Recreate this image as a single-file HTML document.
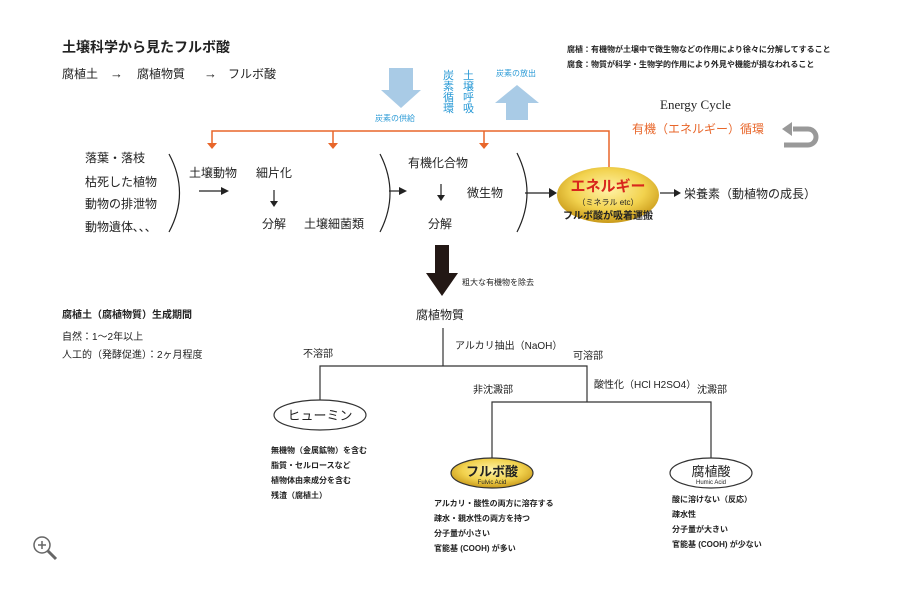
<!DOCTYPE html>
<html><head><meta charset="utf-8"><style>
html,body{margin:0;padding:0;background:#fff}
svg{display:block}
text{font-family:"Liberation Sans","Noto Sans CJK JP",sans-serif;fill:#222}
.b{font-weight:bold}
</style></head><body>
<svg width="900" height="600" viewBox="0 0 900 600" xmlns="http://www.w3.org/2000/svg">
<defs>
<radialGradient id="gold" cx="50%" cy="40%" r="60%">
<stop offset="0" stop-color="#fff3a8"/><stop offset="0.6" stop-color="#f2d24e"/><stop offset="1" stop-color="#c99a1a"/>
</radialGradient>
</defs>
<text x="62" y="52" font-size="14" class="b">土壌科学から見たフルボ酸</text>
<text x="62" y="78" font-size="12">腐植土</text>
<text x="110" y="78" font-size="13">→</text>
<text x="137" y="78" font-size="12">腐植物質</text>
<text x="204" y="78" font-size="13">→</text>
<text x="228" y="78" font-size="12">フルボ酸</text>
<text x="567" y="52" font-size="8" class="b">腐植：有機物が土壌中で微生物などの作用により徐々に分解してすること</text>
<text x="567" y="67" font-size="8" class="b">腐食：物質が科学・生物学的作用により外見や機能が損なわれること</text>
<!-- blue arrows -->
<polygon points="389,68 413,68 413,90 421,90 401,108 381,90 389,90" fill="#a9cbe6"/>
<text x="375" y="121" font-size="8" style="fill:#2a9ad6">炭素の供給</text>
<g font-size="11">
<text x="443" y="79" style="fill:#2a9ad6">炭</text><text x="443" y="90" style="fill:#2a9ad6">素</text><text x="443" y="101" style="fill:#2a9ad6">循</text><text x="443" y="112" style="fill:#2a9ad6">環</text>
<text x="463" y="79" style="fill:#2a9ad6">土</text><text x="463" y="90" style="fill:#2a9ad6">壌</text><text x="463" y="101" style="fill:#2a9ad6">呼</text><text x="463" y="112" style="fill:#2a9ad6">吸</text>
</g>
<text x="496" y="76" font-size="8" style="fill:#2a9ad6">炭素の放出</text>
<polygon points="517,85 539,103 528,103 528,120 506,120 506,103 495,103" fill="#a9cbe6"/>
<!-- orange -->
<g stroke="#e8662a" stroke-width="1.5" fill="none">
<polyline points="212,145 212,131 609,131 609,170"/>
<line x1="333" y1="131" x2="333" y2="144"/>
<line x1="484" y1="131" x2="484" y2="144"/>
</g>
<g fill="#e8662a">
<polygon points="207,143 217,143 212,149"/><polygon points="328,143 338,143 333,149"/><polygon points="479,143 489,143 484,149"/>
</g>
<text x="660" y="109" font-size="13" style="font-family:'Liberation Serif',serif">Energy Cycle</text>
<text x="632" y="133" font-size="12" style="fill:#e8662a">有機（エネルギー）循環</text>
<path d="M793,129 H808 A8,8 0 0 1 808,145 H784" stroke="#999" stroke-width="5" fill="none"/>
<polygon points="782,129 792,122 792,136" fill="#999"/>
<!-- left list -->
<g font-size="12">
<text x="85" y="162">落葉・落枝</text><text x="85" y="186">枯死した植物</text><text x="85" y="208">動物の排泄物</text><text x="85" y="231">動物遺体､､､</text>
<text x="189" y="177">土壌動物</text><text x="256" y="177">細片化</text>
<text x="262" y="228">分解</text><text x="304" y="228">土壌細菌類</text>
<text x="408" y="167">有機化合物</text><text x="428" y="228">分解</text><text x="467" y="197">微生物</text>
<text x="684" y="198">栄養素（動植物の成長）</text>
</g>
<g stroke="#222" stroke-width="1.2" fill="none">
<path d="M169,154 Q190,193 169,232"/>
<path d="M380,154 Q400,193 380,232"/>
<path d="M517,153 Q537,193 517,232"/>
<line x1="199" y1="191" x2="222" y2="191"/>
<line x1="274" y1="190" x2="274" y2="202"/>
<line x1="389" y1="191" x2="400" y2="191"/>
<line x1="441" y1="184" x2="441" y2="196"/>
<line x1="525" y1="193" x2="550" y2="193"/>
<line x1="660" y1="193" x2="675" y2="193"/>
</g>
<g fill="#222">
<polygon points="221,187 229,191 221,195"/>
<polygon points="270,201 278,201 274,207"/>
<polygon points="399,187 407,191 399,195"/>
<polygon points="437,195 445,195 441,201"/>
<polygon points="549,188 557,193 549,198"/>
<polygon points="674,189 681,193 674,197"/>
</g>
<ellipse cx="608" cy="195" rx="51" ry="28" fill="url(#gold)"/>
<text x="608" y="191" font-size="15" text-anchor="middle" class="b" style="fill:#d8261c">エネルギー</text>
<text x="608" y="205" font-size="8" text-anchor="middle">（ミネラル etc）</text>
<text x="608" y="219" font-size="10" text-anchor="middle" class="b">フルボ酸が吸着運搬</text>
<!-- big arrow -->
<polygon points="435,245 449,245 449,273 458,273 442,296 426,273 435,273" fill="#231815"/>
<text x="462" y="285" font-size="8">粗大な有機物を除去</text>
<text x="62" y="318" font-size="10" class="b">腐植土（腐植物質）生成期間</text>
<text x="62" y="340" font-size="10">自然：1〜2年以上</text>
<text x="62" y="358" font-size="10">人工的（発酵促進）：2ヶ月程度</text>
<text x="416" y="319" font-size="12">腐植物質</text>
<g stroke="#333" stroke-width="1.2" fill="none">
<polyline points="443,328 443,366"/>
<polyline points="320,400 320,366 587,366 587,402"/>
<polyline points="492,458 492,402 711,402 711,458"/>
</g>
<g font-size="10">
<text x="303" y="357">不溶部</text><text x="455" y="349">アルカリ抽出（NaOH）</text><text x="573" y="359">可溶部</text>
<text x="594" y="388">酸性化（HCl H2SO4）</text><text x="473" y="393">非沈澱部</text><text x="697" y="393">沈澱部</text>
</g>
<ellipse cx="320" cy="415" rx="46" ry="15" fill="#fff" stroke="#333" stroke-width="1.2"/>
<text x="320" y="420" font-size="13" text-anchor="middle">ヒューミン</text>
<ellipse cx="492" cy="473" rx="41" ry="15" fill="url(#gold)" stroke="#333" stroke-width="1.2"/>
<text x="492" y="476" font-size="13" text-anchor="middle" class="b">フルボ酸</text>
<text x="492" y="484" font-size="6" text-anchor="middle">Fulvic Acid</text>
<ellipse cx="711" cy="473" rx="41" ry="15" fill="#fff" stroke="#333" stroke-width="1.2"/>
<text x="711" y="476" font-size="13" text-anchor="middle">腐植酸</text>
<text x="711" y="484" font-size="6" text-anchor="middle">Humic Acid</text>
<g font-size="8" class="b">
<text x="271" y="453">無機物（金属鉱物）を含む</text><text x="271" y="468">脂質・セルロースなど</text><text x="271" y="483">植物体由来成分を含む</text><text x="271" y="498">残渣（腐植土）</text>
<text x="434" y="506">アルカリ・酸性の両方に溶存する</text><text x="434" y="521">疎水・親水性の両方を持つ</text><text x="434" y="536">分子量が小さい</text><text x="434" y="551">官能基 (COOH) が多い</text>
<text x="672" y="502">酸に溶けない（反応）</text><text x="672" y="517">疎水性</text><text x="672" y="532">分子量が大きい</text><text x="672" y="547">官能基 (COOH) が少ない</text>
</g>
<!-- zoom icon -->
<circle cx="42" cy="545" r="8" fill="none" stroke="#666" stroke-width="1.5"/>
<line x1="48" y1="551" x2="56" y2="559" stroke="#666" stroke-width="3"/>
<line x1="38" y1="545" x2="46" y2="545" stroke="#666" stroke-width="1.5"/>
<line x1="42" y1="541" x2="42" y2="549" stroke="#666" stroke-width="1.5"/>
</svg>
</body></html>
